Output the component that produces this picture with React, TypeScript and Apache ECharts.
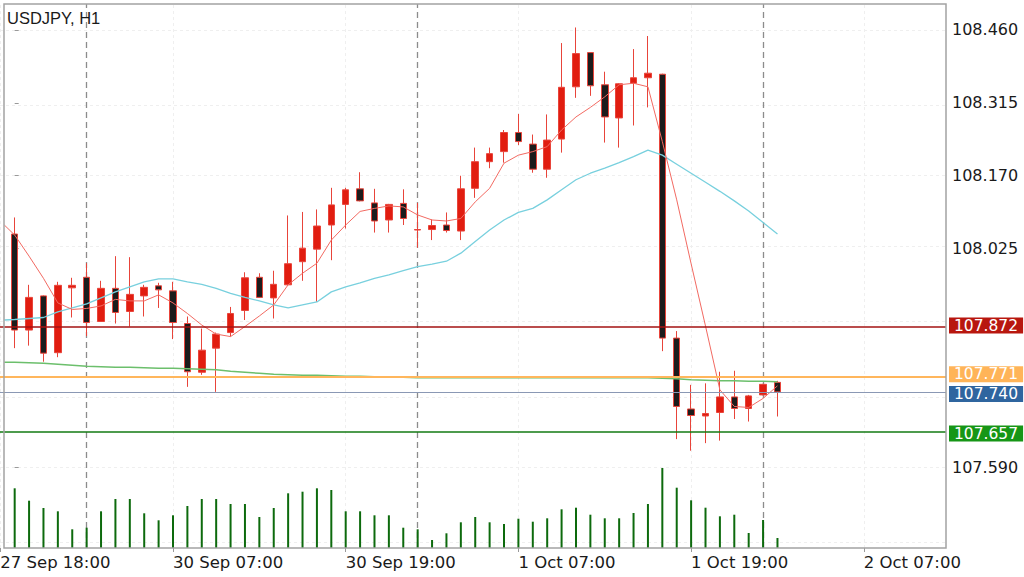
import React, { useEffect, useRef } from 'react';
import * as echarts from 'echarts';

const TITLE = 'USDJPY, H1';

// Candles (index 0..53), hourly bars
const opens = [108.054, 107.863, 107.931, 107.818, 107.947, 107.968, 107.880, 107.946, 107.900, 107.931, 107.951, 107.941, 107.876, 107.779, 107.827, 107.858, 107.902, 107.968, 107.927, 107.953, 107.999, 108.024, 108.072, 108.113, 108.144, 108.116, 108.082, 108.115, 108.063, 108.063, 108.072, 108.060, 108.145, 108.198, 108.218, 108.256, 108.233, 108.183, 108.243, 108.347, 108.415, 108.351, 108.285, 108.354, 108.365, 108.372, 107.847, 107.706, 107.692, 107.699, 107.730, 107.707, 107.734, 107.759];
const closes = [107.863, 107.928, 107.817, 107.952, 107.952, 107.878, 107.946, 107.898, 107.934, 107.948, 107.943, 107.878, 107.780, 107.823, 107.855, 107.896, 107.967, 107.928, 107.954, 107.995, 108.026, 108.070, 108.112, 108.142, 108.120, 108.080, 108.113, 108.085, 108.062, 108.071, 108.061, 108.144, 108.198, 108.214, 108.256, 108.238, 108.183, 108.241, 108.346, 108.413, 108.349, 108.287, 108.353, 108.365, 108.374, 107.847, 107.711, 107.693, 107.697, 107.730, 107.707, 107.732, 107.755, 107.740];
const lows = [107.827, 107.832, 107.800, 107.809, 107.888, 107.851, 107.879, 107.876, 107.870, 107.890, 107.907, 107.845, 107.750, 107.774, 107.740, 107.850, 107.883, 107.927, 107.886, 107.951, 107.961, 107.919, 108.002, 108.065, 108.119, 108.057, 108.057, 108.072, 108.027, 108.042, 108.057, 108.042, 108.126, 108.185, 108.196, 108.231, 108.176, 108.166, 108.216, 108.325, 108.329, 108.236, 108.226, 108.270, 108.306, 107.821, 107.646, 107.623, 107.638, 107.643, 107.686, 107.681, 107.733, 107.691];
const highs = [108.087, 107.953, 107.932, 107.959, 107.967, 107.996, 107.961, 108.010, 108.008, 107.953, 107.957, 107.959, 107.890, 107.866, 107.858, 107.909, 107.978, 107.976, 107.981, 108.091, 108.098, 108.103, 108.146, 108.146, 108.177, 108.144, 108.114, 108.143, 108.116, 108.083, 108.097, 108.170, 108.226, 108.226, 108.261, 108.293, 108.252, 108.292, 108.434, 108.465, 108.416, 108.377, 108.354, 108.422, 108.448, 108.373, 107.861, 107.754, 107.757, 107.780, 107.782, 107.734, 107.756, 107.762];
const volumes = [1791, 1419, 1200, 1101, 561, 609, 1101, 1470, 1470, 1041, 831, 981, 1260, 1470, 1470, 1320, 1320, 930, 1200, 1641, 1689, 1791, 1740, 1101, 1101, 981, 981, 609, 561, 240, 441, 771, 930, 771, 720, 879, 789, 891, 1161, 1209, 999, 891, 891, 1050, 1320, 2400, 1809, 1431, 1209, 951, 999, 450, 840, 300];

// Moving averages (first value sits at the left edge of the plot)
const maStartX = -0.72;
const fastMA = [108.072, 108.052, 108.010, 107.966, 107.917, 107.904, 107.906, 107.911, 107.924, 107.921, 107.921, 107.933, 107.917, 107.896, 107.873, 107.855, 107.850, 107.870, 107.891, 107.913, 107.953, 107.976, 107.996, 108.042, 108.072, 108.099, 108.105, 108.110, 108.108, 108.092, 108.082, 108.080, 108.085, 108.118, 108.145, 108.195, 108.211, 108.218, 108.228, 108.261, 108.287, 108.306, 108.327, 108.351, 108.354, 108.347, 108.238, 108.122, 107.995, 107.871, 107.744, 107.711, 107.709, 107.727, 107.752];
const midMA = [107.883, 107.884, 107.886, 107.888, 107.899, 107.907, 107.915, 107.927, 107.939, 107.949, 107.959, 107.965, 107.965, 107.959, 107.954, 107.946, 107.936, 107.928, 107.921, 107.913, 107.907, 107.913, 107.919, 107.939, 107.949, 107.957, 107.966, 107.973, 107.981, 107.989, 107.994, 108.000, 108.016, 108.039, 108.062, 108.082, 108.097, 108.105, 108.122, 108.142, 108.162, 108.175, 108.185, 108.196, 108.208, 108.221, 108.211, 108.193, 108.175, 108.157, 108.139, 108.120, 108.100, 108.077, 108.054];
const slowMA = [107.799, 107.799, 107.798, 107.797, 107.795, 107.793, 107.791, 107.790, 107.789, 107.789, 107.788, 107.787, 107.787, 107.786, 107.785, 107.784, 107.781, 107.779, 107.777, 107.775, 107.774, 107.773, 107.773, 107.772, 107.771, 107.771, 107.770, 107.769, 107.769, 107.768, 107.768, 107.768, 107.768, 107.768, 107.768, 107.768, 107.768, 107.768, 107.768, 107.768, 107.768, 107.768, 107.768, 107.768, 107.768, 107.768, 107.767, 107.766, 107.764, 107.763, 107.762, 107.762, 107.761, 107.761, 107.760];

// Price levels with tags
const levelValues = [107.872, 107.740, 107.771, 107.657];
const levelLineColors = ['#a31212', '#8a98b4', '#ffb65c', '#137a13'];
const levelTagColors = ['#b8170f', '#2f659f', '#ffb458', '#169616'];
const levelWidths = [1.5, 1, 2, 1.5];
const levelTagShift = [0, 2, -2, 0];

// Axes
const yTickValues = [107.590, 108.025, 108.170, 108.315, 108.460];
const yGridValues = [107.445, 107.590, 107.735, 107.880, 108.025, 108.170, 108.315, 108.460];
const xTickIndex = [-1, 11, 23, 35, 47, 59];
const xTickLabels = ['27 Sep 18:00', '30 Sep 07:00', '30 Sep 19:00', '1 Oct 07:00', '1 Oct 19:00', '2 Oct 07:00'];
const daySeparators = [5, 28, 52];

const Y_MIN = 107.4294;
const Y_MAX = 108.5117;
const X_MIN = -1.02;
const X_MAX = 64.71;
const VOL_MAX = 16320;

const FONT = 'DejaVu Sans';

function buildOption() {
  const candleData = opens.map((o, i) => [i, o, closes[i], lows[i], highs[i]]);
  const toLine = (arr: number[]) => arr.map((v, k) => [k === 0 ? maStartX : k - 1, v]);

  const levelSeries = levelValues.map((v, k) => ({
    type: 'line',
    data: [],
    silent: true,
    markLine: {
      z: 10 + k,
      symbol: 'none',
      silent: true,
      animation: false,
      lineStyle: { color: levelLineColors[k], width: levelWidths[k], type: 'solid' },
      label: { show: false },
      emphasis: { disabled: true },
      data: [{ yAxis: v }],
    },
    markPoint: {
      z: 20 + k,
      silent: true,
      animation: false,
      symbol: 'rect',
      symbolSize: 1,
      itemStyle: { color: 'rgba(0,0,0,0)' },
      label: {
        show: true,
        position: 'right',
        distance: 2.5,
        offset: [0, levelTagShift[k]],
        formatter: v.toFixed(3),
        color: '#ffffff',
        backgroundColor: levelTagColors[k],
        padding: [0, 5, 0, 5],
        fontFamily: FONT,
        fontSize: 15.5,
        lineHeight: 16,
      },
      emphasis: { disabled: true },
      data: [{ coord: [X_MAX, v] }],
    },
  }));

  return {
    animation: false,
    backgroundColor: '#ffffff',
    title: {
      text: TITLE,
      left: 7,
      top: 9,
      padding: 0,
      textStyle: { fontFamily: 'Liberation Sans', fontSize: 16.5, fontWeight: 'normal', color: '#1a1a1a' },
    },
    grid: { left: 0, right: 78, top: 4, bottom: 29, containLabel: false, outerBoundsMode: 'none' },
    xAxis: [
      {
        type: 'value',
        min: X_MIN,
        max: X_MAX,
        axisLine: { show: false },
        splitLine: { show: false },
        axisTick: { show: true, customValues: xTickIndex, length: 4, lineStyle: { color: '#999999' } },
        axisLabel: {
          customValues: xTickIndex,
          align: 'left',
          margin: 6,
          fontFamily: FONT,
          fontSize: 16.5,
          color: '#1a1a1a',
          formatter: (val: number) => {
            const k = xTickIndex.indexOf(Math.round(val));
            return k >= 0 ? xTickLabels[k] : '';
          },
        },
      },
    ],
    yAxis: [
      {
        type: 'value',
        position: 'right',
        min: Y_MIN,
        max: Y_MAX,
        scale: true,
        axisLine: { show: false },
        splitLine: { show: false },
        axisTick: { show: true, customValues: yTickValues, length: 4, lineStyle: { color: '#999999' } },
        axisLabel: {
          customValues: yTickValues,
          margin: 6,
          fontFamily: FONT,
          fontSize: 16,
          color: '#1a1a1a',
          formatter: (val: number) => val.toFixed(3),
        },
      },
      { type: 'value', min: 0, max: VOL_MAX, show: false },
    ],
    graphic: [
      {
        type: 'rect',
        z: 100,
        silent: true,
        shape: { x: 4, y: 4, width: 942, height: 544 },
        style: { fill: 'none', stroke: '#a3a3a3', lineWidth: 1.5 },
      },
    ],
    series: [
      {
        type: 'line',
        data: [],
        silent: true,
        z: 0,
        markLine: {
          z: 0,
          symbol: 'none',
          silent: true,
          label: { show: false },
          lineStyle: { color: '#efefef', width: 1, type: [3, 3] },
          data: [
            ...yGridValues.map((v) => ({ yAxis: v })),
            ...xTickIndex.filter((v) => v > X_MIN).map((v) => ({ xAxis: v })),
          ],
        },
      },
      {
        type: 'line',
        data: [],
        silent: true,
        z: 1,
        markLine: {
          z: 1,
          symbol: 'none',
          silent: true,
          label: { show: false },
          lineStyle: { color: '#8c8c8c', width: 1.3, type: [6, 4] },
          data: daySeparators.map((v) => ({ xAxis: v })),
        },
      },
      {
        type: 'bar',
        yAxisIndex: 1,
        silent: true,
        z: 1,
        barWidth: 2,
        itemStyle: { color: '#0d6a0d' },
        data: volumes.map((v, i) => [i, v]),
      },
      {
        type: 'candlestick',
        silent: true,
        z: 3,
        barWidth: 7,
        encode: { x: 0, y: [1, 2, 3, 4] },
        itemStyle: {
          color: '#e11d10',
          color0: '#1c1c1c',
          borderColor: '#e8443a',
          borderColor0: '#e8443a',
          borderWidth: 1,
        },
        data: candleData,
      },
      {
        type: 'line',
        silent: true,
        z: 4,
        symbol: 'none',
        lineStyle: { color: '#6cbf6c', width: 1.5 },
        data: toLine(slowMA),
      },
      {
        type: 'line',
        silent: true,
        z: 4,
        symbol: 'none',
        lineStyle: { color: '#78d0de', width: 1.3 },
        data: toLine(midMA),
      },
      {
        type: 'line',
        silent: true,
        z: 4,
        symbol: 'none',
        lineStyle: { color: '#f26a62', width: 1 },
        data: toLine(fastMA),
      },
      ...levelSeries,
    ],
  };
}

export default function App() {
  const ref = useRef<HTMLDivElement>(null);
  useEffect(() => {
    if (!ref.current) return;
    const chart = echarts.init(ref.current, null, { renderer: 'svg' });
    chart.setOption(buildOption() as any);
    return () => chart.dispose();
  }, []);
  return (
    <div
      ref={ref}
      style={{ position: 'fixed', left: 0, top: 0, width: 1024, height: 577, background: '#fff' }}
    />
  );
}
